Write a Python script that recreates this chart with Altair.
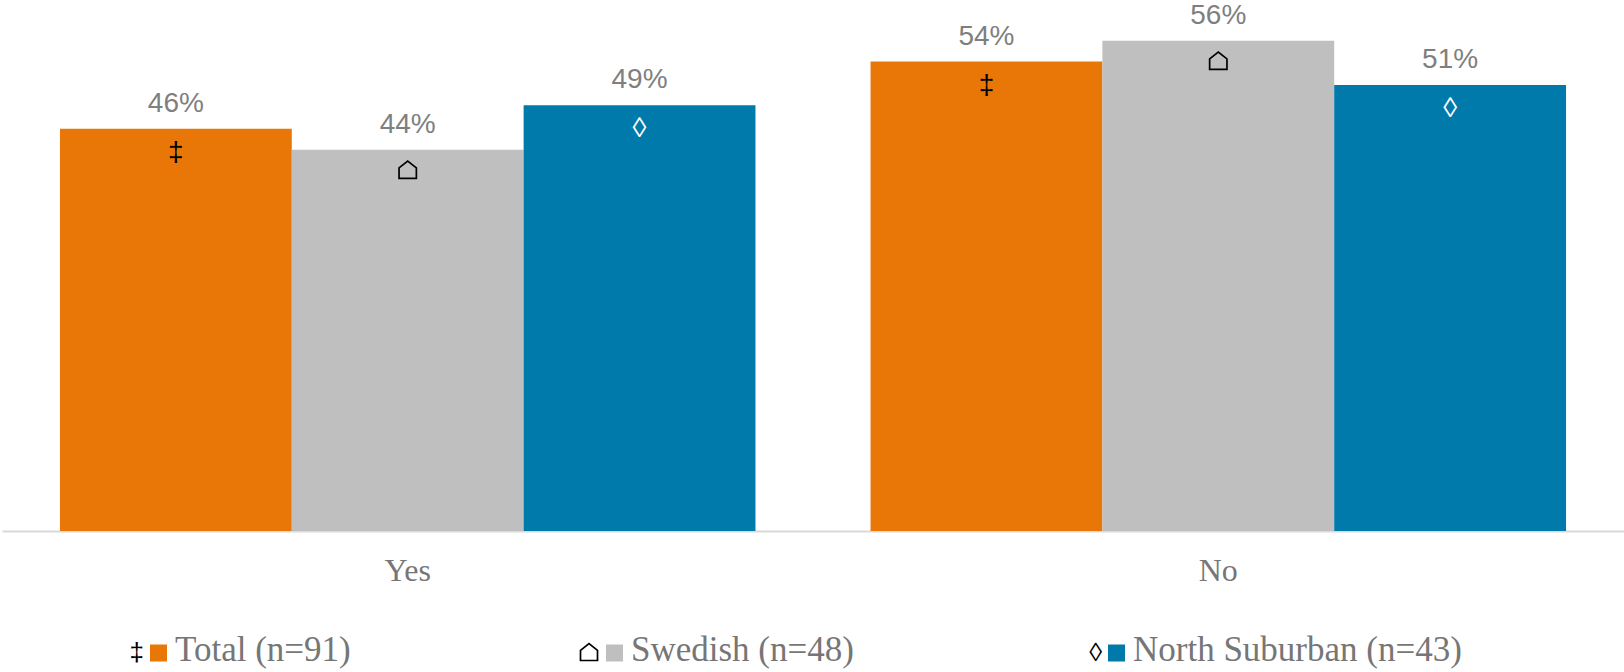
import altair as alt
import pandas as pd

# ---- data ----
groups = ["Yes", "No"]
series = ["Total (n=91)", "Swedish (n=48)", "North Suburban (n=43)"]
glyphs = ["‡", "⌂", "◊"]
glyph_colors = ["#000000", "#000000", "#FFFFFF"]
colors = ["#E87707", "#BFBFBF", "#007AAA"]
values_yes = [0.4615, 0.4375, 0.4884]
values_no = [0.5385, 0.5625, 0.5116]

rows = []
for g, vals in zip(groups, [values_yes, values_no]):
    for s, v, gl, gc in zip(series, vals, glyphs, glyph_colors):
        rows.append({"group": g, "series": s, "value": v, "glyph": gl, "glyph_color": gc})
df = pd.DataFrame(rows)

legend_df = pd.DataFrame({
    "series": series,
    "glyph": glyphs,
    "idx": list(range(len(series))),
})

LABEL_GRAY = "#767676"
# outline "house" symbol (⌂) drawn as a vector symbol
HOUSE = "M-1,1 L-1,-0.2 L0,-1 L1,-0.2 L1,1 Z"

x_enc = alt.X(
    "group:N", sort=groups, title=None,
    scale=alt.Scale(paddingInner=0.142, paddingOuter=0.0715),
    axis=alt.Axis(
        ticks=False, tickSize=0, grid=False,
        domainColor="#D9D9D9", domainWidth=2,
        labelFont="Liberation Serif", labelFontSize=32, labelColor=LABEL_GRAY,
        labelBaseline="alphabetic", labelPadding=49, labelAngle=0,
    ),
)
xo_enc = alt.XOffset("series:N", sort=series, scale=alt.Scale(paddingInner=0, paddingOuter=0))
y_enc = alt.Y("value:Q", scale=alt.Scale(domain=[0, 0.6], nice=False, zero=True), axis=None)

base = alt.Chart(df)

bars = base.mark_bar().encode(
    x=x_enc, xOffset=xo_enc, y=y_enc,
    color=alt.Color("series:N", sort=series, scale=alt.Scale(domain=series, range=colors), legend=None),
)

labels = base.mark_text(
    dy=-17, baseline="alphabetic", fontSize=28, font="Liberation Sans", color="#7F7F7F"
).encode(
    x=x_enc, xOffset=xo_enc, y=y_enc,
    text=alt.Text("value:Q", format=".0%"),
)

marks_a = base.transform_filter("datum.glyph != '⌂'").mark_text(
    dy=24, baseline="middle", fontSize=28, font="Liberation Sans, DejaVu Sans"
).encode(
    x=x_enc, xOffset=xo_enc, y=y_enc,
    text="glyph:N",
    fill=alt.Fill("glyph_color:N", scale=None),
)
marks_b = base.transform_filter("datum.glyph == '⌂'").mark_point(
    shape=HOUSE, size=300, filled=False, strokeWidth=1.7, opacity=1,
    color="#000000", yOffset=20,
).encode(x=x_enc, xOffset=xo_enc, y=y_enc)

main = alt.layer(bars, labels, marks_a, marks_b)

# ---- legend ----
lx = alt.X("idx:Q", scale=alt.Scale(domain=[0, 1, 2], range=[148, 604, 1106], nice=False, zero=False), axis=None)
lbase = alt.Chart(legend_df)

leg_sq = lbase.mark_square(size=289, xOffset=8.5, opacity=1, filled=True).encode(
    x=lx, y=alt.value(645),
    color=alt.Color("series:N", sort=series, scale=alt.Scale(domain=series, range=colors), legend=None),
)
leg_glyph_a = lbase.transform_filter("datum.glyph != '⌂'").mark_text(
    align="right", dx=-6, baseline="middle", fontSize=26,
    font="Liberation Sans, DejaVu Sans", color="#000000",
).encode(x=lx, y=alt.value(645), text="glyph:N")
leg_glyph_b = lbase.transform_filter("datum.glyph == '⌂'").mark_point(
    shape=HOUSE, size=289, filled=False, strokeWidth=1.7, opacity=1,
    color="#000000", xOffset=-17,
).encode(x=lx, y=alt.value(644))
leg_text = lbase.mark_text(
    align="left", dx=25, baseline="alphabetic", fontSize=35,
    font="Liberation Serif", color=LABEL_GRAY,
).encode(x=lx, y=alt.value(653), text="series:N")

legend = alt.layer(leg_sq, leg_glyph_a, leg_glyph_b, leg_text)

chart = alt.layer(main, legend).resolve_scale(x="independent", color="independent").properties(
    width=1622, height=523,
    autosize=alt.AutoSizeParams(type="none"),
    padding={"left": 2, "top": 8, "right": 0, "bottom": 141},
    background="white",
).configure_view(stroke=None)

chart.save("out.html", embed_options={"renderer": "svg", "actions": False})
